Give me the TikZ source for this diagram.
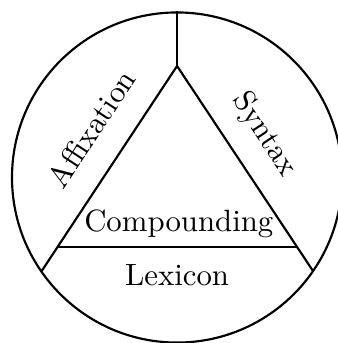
\documentclass[tikz,border=0pt]{standalone}
\usepackage{tikz}
\usetikzlibrary{calc}
\begin{document}
\begin{tikzpicture}[line width=0.7pt]
        \useasboundingbox (-2.021,-1.889) rectangle (1.826,2.026);
        \node[draw, circle, minimum size=3.768cm, inner sep=0pt] (ring) at (0,0) {};
        \coordinate (apex) at (0,1.273);
        \coordinate (left) at (-1.364,-0.793);
        \coordinate (right) at (1.370,-0.793);
        \coordinate (leftend) at ($(apex)!1.135!(left)$);
        \coordinate (rightend) at ($(apex)!1.135!(right)$);
        \draw (ring.north) -- (apex);
        \draw (leftend) -- (apex) -- (rightend);
        \draw (left) -- (right);
        \node[rotate=56.6] (aff) at (-0.98,0.56) {Affixation};
        \node[rotate=-56.6] (syn) at (1.0,0.49) {Syntax};
        \node (comp) at (0.02,-0.53) {Compounding};
        \node (lex) at (0,-1.12) {Lexicon};
    \end{tikzpicture}
\end{document}
